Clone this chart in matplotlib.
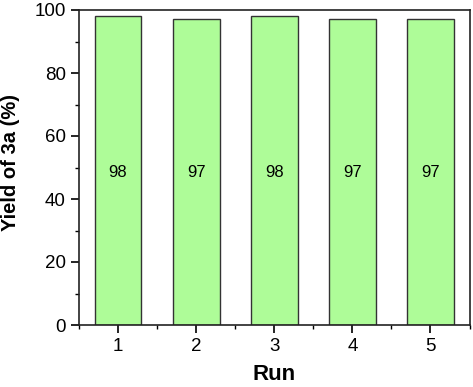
import matplotlib
matplotlib.use("Agg")
import matplotlib.pyplot as plt
from matplotlib.ticker import MultipleLocator

runs = [1, 2, 3, 4, 5]
yields = [98, 97, 98, 97, 97]
labels = ["98", "97", "98", "97", "97"]

plt.rcParams['font.family'] = ['Liberation Sans', 'DejaVu Sans']

fig = plt.figure(figsize=(4.73, 3.87), dpi=100)
ax = fig.add_axes([79/473, 1 - 325/387, (469.5-79)/473, (325-10)/387])

ax.bar(runs, yields, width=0.6, color='#aefc98', edgecolor='#333333', linewidth=1.0)
for r, v, t in zip(runs, yields, labels):
    ax.text(r, 48.5, t, ha='center', va='center', fontsize=12)

ax.set_xlim(0.5, 5.5)
ax.set_ylim(0, 100)
ax.set_xticks(runs)
ax.xaxis.set_minor_locator(MultipleLocator(0.5))
ax.yaxis.set_major_locator(MultipleLocator(20))
ax.yaxis.set_minor_locator(MultipleLocator(10))
ax.tick_params(which='major', direction='out', length=6, width=1.2, labelsize=13.5)
ax.tick_params(which='minor', direction='out', length=3, width=1.0)
for s in ax.spines.values():
    s.set_linewidth(1.2)
    s.set_color('#222222')

ax.set_xlabel('Run', fontsize=16, fontweight='bold')
ax.set_ylabel('Yield of 3a (%)', fontsize=14.5, fontweight='bold')
ax.xaxis.set_label_coords(0.5, -0.125)
ax.yaxis.set_label_coords(-0.152, 0.515)

fig.savefig('out.png', dpi=100)
